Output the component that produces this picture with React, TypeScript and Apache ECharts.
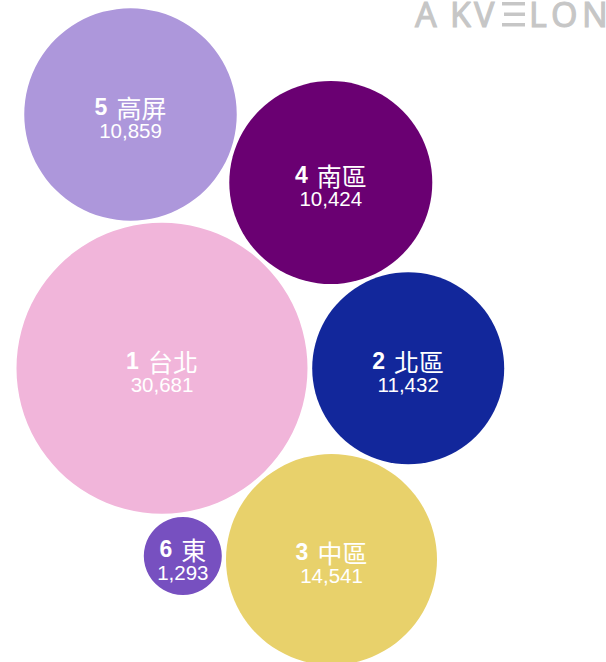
import React, { useEffect, useRef } from "react";
import * as echarts from "echarts";

const regionNo = ["1", "2", "3", "4", "5", "6"];
const regionName = ["台北", "北區", "中區", "南區", "高屏", "東"];
const values = [30681, 11432, 14541, 10424, 10859, 1293];
// packed-bubble layout coordinates and bubble diameters
const layoutX = [162, 408.2, 331.5, 330.8, 130.5, 182.8];
const layoutY = [368.3, 368.3, 559.5, 182.5, 114.5, 556];
const bubbleSize = [291, 192, 211, 203, 212.5, 78];
const colors = ["#F1B5DA", "#12279B", "#E8D16B", "#6A0072", "#AD97DB", "#7750C0"];

const W = 606;
const H = 662;

export default function App() {
  const ref = useRef<HTMLDivElement>(null);
  useEffect(() => {
    if (!ref.current) return;
    const chart = echarts.init(ref.current, null, { renderer: "svg" });
    const font = "'Liberation Sans', Arial, 'Noto Sans CJK TC', sans-serif";
    const cjk = "'Noto Sans CJK TC', 'Liberation Sans', sans-serif";
    const data = regionNo.map((r, i) => ({
      name: `${r} ${regionName[i]}`,
      value: [layoutX[i], layoutY[i], bubbleSize[i], values[i], i],
      itemStyle: { color: colors[i], opacity: 1 },
    }));
    const logoColor = "#C6C6C6";
    const letter = (t: string, x: number) => ({
      type: "text",
      x,
      y: 14,
      style: {
        text: t,
        fontSize: 34,
        lineHeight: 26,
        fontFamily: "'Noto Sans', 'Open Sans', sans-serif",
        fill: logoColor,
        stroke: logoColor,
        lineWidth: 1,
        verticalAlign: "middle",
      },
    });
    chart.setOption({
      animation: false,
      grid: { left: 0, right: 0, top: 0, bottom: 0 },
      xAxis: { type: "value", min: 0, max: W, show: false },
      yAxis: { type: "value", min: 0, max: H, inverse: true, show: false },
      series: [
        {
          type: "scatter",
          data,
          symbol: "circle",
          symbolSize: (v: number[]) => v[2],
          label: {
            show: true,
            position: "inside",
            offset: [0, 3],
            fontFamily: font,
            formatter: (p: any) => {
              const i = p.value[4];
              return `{n|${regionNo[i]}}{s| }{c|${regionName[i]}}\n{b|${Number(p.value[3]).toLocaleString("en-US")}}`;
            },
            rich: {
              n: { fontSize: 23, fontWeight: "bold", color: "#ffffff", lineHeight: 26, fontFamily: font },
              s: { fontSize: 23, color: "#ffffff", lineHeight: 26, fontFamily: font, width: 9 },
              c: { fontSize: 25, fontWeight: "normal", color: "#ffffff", lineHeight: 26, fontFamily: cjk },
              b: { fontSize: 20.5, color: "#ffffff", lineHeight: 21, fontFamily: font },
            },
          },
          emphasis: { disabled: true },
        },
      ],
      graphic: [
        letter("A", 415),
        letter("K", 450),
        letter("V", 474),
        { type: "rect", shape: { x: 502, y: 2, width: 23, height: 3.5 }, style: { fill: logoColor } },
        { type: "rect", shape: { x: 504, y: 12.5, width: 21, height: 3.5 }, style: { fill: logoColor } },
        { type: "rect", shape: { x: 502, y: 23, width: 23, height: 3.5 }, style: { fill: logoColor } },
        letter("L", 529),
        letter("O", 551),
        letter("N", 582),
      ],
    });
    return () => chart.dispose();
  }, []);
  return (
    <div
      ref={ref}
      style={{ position: "fixed", left: 0, top: 0, width: W, height: H, background: "#ffffff" }}
    />
  );
}
